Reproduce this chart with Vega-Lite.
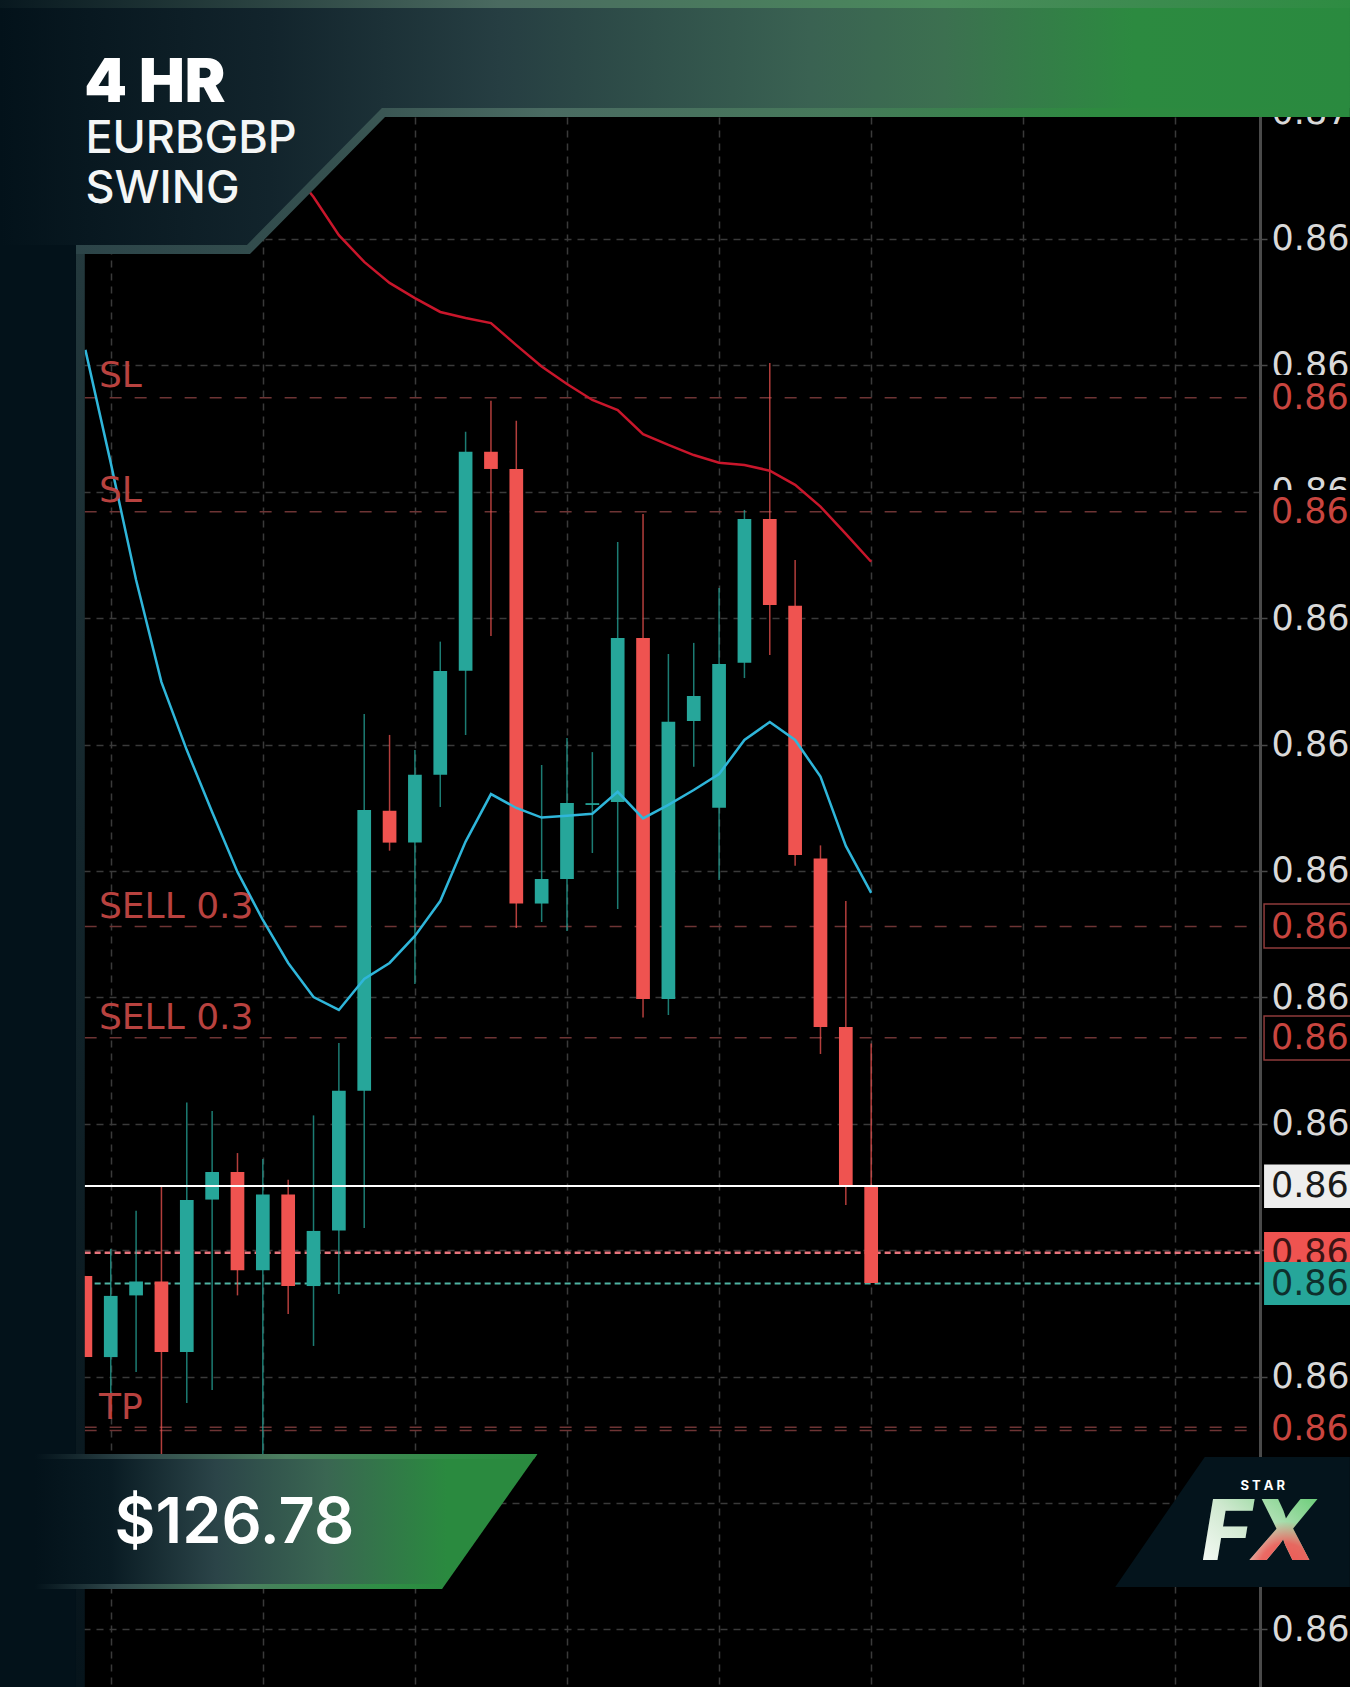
{
  "$schema": "https://vega.github.io/schema/vega-lite/v6.json",
  "description": "EURGBP 4 hour swing trade candles",
  "width": 1260,
  "height": 1687,
  "autosize": {"type": "none"},
  "padding": {"left": 0, "top": 0, "right": 90, "bottom": 0},
  "background": "#000000",
  "datasets": {
    "wicks": [
      {"slot": 0, "dir": "down", "price": 0.865398, "low": 0.865077},
      {"slot": 1, "dir": "up", "price": 0.865505, "low": 0.864935},
      {"slot": 2, "dir": "up", "price": 0.865656, "low": 0.865018},
      {"slot": 3, "dir": "down", "price": 0.865754, "low": 0.864591},
      {"slot": 4, "dir": "up", "price": 0.866084, "low": 0.864895},
      {"slot": 5, "dir": "up", "price": 0.866050, "low": 0.864947},
      {"slot": 6, "dir": "down", "price": 0.865884, "low": 0.865321},
      {"slot": 7, "dir": "up", "price": 0.865861, "low": 0.864591},
      {"slot": 8, "dir": "down", "price": 0.865778, "low": 0.865247},
      {"slot": 9, "dir": "up", "price": 0.866033, "low": 0.865121},
      {"slot": 10, "dir": "up", "price": 0.866319, "low": 0.865327},
      {"slot": 11, "dir": "up", "price": 0.867621, "low": 0.865588},
      {"slot": 12, "dir": "down", "price": 0.867538, "low": 0.867080},
      {"slot": 13, "dir": "up", "price": 0.867478, "low": 0.866553},
      {"slot": 14, "dir": "up", "price": 0.867907, "low": 0.867253},
      {"slot": 15, "dir": "up", "price": 0.868737, "low": 0.867538},
      {"slot": 16, "dir": "down", "price": 0.868860, "low": 0.867929},
      {"slot": 17, "dir": "down", "price": 0.868781, "low": 0.866774},
      {"slot": 18, "dir": "up", "price": 0.867419, "low": 0.866798},
      {"slot": 19, "dir": "up", "price": 0.867526, "low": 0.866762},
      {"slot": 20, "dir": "up", "price": 0.867470, "low": 0.867071},
      {"slot": 21, "dir": "up", "price": 0.868301, "low": 0.866849},
      {"slot": 22, "dir": "down", "price": 0.868412, "low": 0.866420},
      {"slot": 23, "dir": "up", "price": 0.867858, "low": 0.866430},
      {"slot": 24, "dir": "up", "price": 0.867902, "low": 0.867412},
      {"slot": 25, "dir": "up", "price": 0.868119, "low": 0.866964},
      {"slot": 26, "dir": "up", "price": 0.868428, "low": 0.867763},
      {"slot": 27, "dir": "down", "price": 0.869009, "low": 0.867854},
      {"slot": 28, "dir": "down", "price": 0.868230, "low": 0.867020},
      {"slot": 29, "dir": "down", "price": 0.867101, "low": 0.866276},
      {"slot": 30, "dir": "down", "price": 0.866881, "low": 0.865679},
      {"slot": 31, "dir": "down", "price": 0.866317, "low": 0.865370}
    ],
    "bodies": [
      {"slot": 0, "dir": "down", "price": 0.865398, "close": 0.865077},
      {"slot": 1, "dir": "up", "price": 0.865077, "close": 0.865319},
      {"slot": 2, "dir": "up", "price": 0.865321, "close": 0.865376},
      {"slot": 3, "dir": "down", "price": 0.865376, "close": 0.865097},
      {"slot": 4, "dir": "up", "price": 0.865097, "close": 0.865698},
      {"slot": 5, "dir": "up", "price": 0.865700, "close": 0.865809},
      {"slot": 6, "dir": "down", "price": 0.865809, "close": 0.865420},
      {"slot": 7, "dir": "up", "price": 0.865420, "close": 0.865720},
      {"slot": 8, "dir": "down", "price": 0.865720, "close": 0.865358},
      {"slot": 9, "dir": "up", "price": 0.865358, "close": 0.865576},
      {"slot": 10, "dir": "up", "price": 0.865578, "close": 0.866130},
      {"slot": 11, "dir": "up", "price": 0.866130, "close": 0.867241},
      {"slot": 12, "dir": "down", "price": 0.867238, "close": 0.867112},
      {"slot": 13, "dir": "up", "price": 0.867112, "close": 0.867380},
      {"slot": 14, "dir": "up", "price": 0.867380, "close": 0.867791},
      {"slot": 15, "dir": "up", "price": 0.867792, "close": 0.868658},
      {"slot": 16, "dir": "down", "price": 0.868658, "close": 0.868590},
      {"slot": 17, "dir": "down", "price": 0.868590, "close": 0.866871},
      {"slot": 18, "dir": "up", "price": 0.866871, "close": 0.866968},
      {"slot": 19, "dir": "up", "price": 0.866968, "close": 0.867269},
      {"slot": 20, "dir": "up", "price": 0.867261, "close": 0.867268},
      {"slot": 21, "dir": "up", "price": 0.867273, "close": 0.867921},
      {"slot": 22, "dir": "down", "price": 0.867921, "close": 0.866493},
      {"slot": 23, "dir": "up", "price": 0.866493, "close": 0.867590},
      {"slot": 24, "dir": "up", "price": 0.867593, "close": 0.867692},
      {"slot": 25, "dir": "up", "price": 0.867250, "close": 0.867819},
      {"slot": 26, "dir": "up", "price": 0.867823, "close": 0.868392},
      {"slot": 27, "dir": "down", "price": 0.868392, "close": 0.868052},
      {"slot": 28, "dir": "down", "price": 0.868049, "close": 0.867063},
      {"slot": 29, "dir": "down", "price": 0.867049, "close": 0.866383},
      {"slot": 30, "dir": "down", "price": 0.866383, "close": 0.865758},
      {"slot": 31, "dir": "down", "price": 0.865758, "close": 0.865370}
    ],
    "averages": [
      {"ma": "slow", "slot": 8, "price": 0.869792},
      {"ma": "slow", "slot": 9, "price": 0.869666},
      {"ma": "slow", "slot": 10, "price": 0.869515},
      {"ma": "slow", "slot": 11, "price": 0.869409},
      {"ma": "slow", "slot": 12, "price": 0.869326},
      {"ma": "slow", "slot": 13, "price": 0.869266},
      {"ma": "slow", "slot": 14, "price": 0.869211},
      {"ma": "slow", "slot": 15, "price": 0.869187},
      {"ma": "slow", "slot": 16, "price": 0.869167},
      {"ma": "slow", "slot": 17, "price": 0.869080},
      {"ma": "slow", "slot": 18, "price": 0.868995},
      {"ma": "slow", "slot": 19, "price": 0.868926},
      {"ma": "slow", "slot": 20, "price": 0.868863},
      {"ma": "slow", "slot": 21, "price": 0.868823},
      {"ma": "slow", "slot": 22, "price": 0.868728},
      {"ma": "slow", "slot": 23, "price": 0.868685},
      {"ma": "slow", "slot": 24, "price": 0.868645},
      {"ma": "slow", "slot": 25, "price": 0.868615},
      {"ma": "slow", "slot": 26, "price": 0.868606},
      {"ma": "slow", "slot": 27, "price": 0.868583},
      {"ma": "slow", "slot": 28, "price": 0.868527},
      {"ma": "slow", "slot": 29, "price": 0.868441},
      {"ma": "slow", "slot": 30, "price": 0.868333},
      {"ma": "slow", "slot": 31, "price": 0.868223},
      {"ma": "fast", "slot": 0, "price": 0.869061},
      {"ma": "fast", "slot": 1, "price": 0.868614},
      {"ma": "fast", "slot": 2, "price": 0.868151},
      {"ma": "fast", "slot": 3, "price": 0.867747},
      {"ma": "fast", "slot": 4, "price": 0.867478},
      {"ma": "fast", "slot": 5, "price": 0.867233},
      {"ma": "fast", "slot": 6, "price": 0.866996},
      {"ma": "fast", "slot": 7, "price": 0.866806},
      {"ma": "fast", "slot": 8, "price": 0.866636},
      {"ma": "fast", "slot": 9, "price": 0.866501},
      {"ma": "fast", "slot": 10, "price": 0.866450},
      {"ma": "fast", "slot": 11, "price": 0.866573},
      {"ma": "fast", "slot": 12, "price": 0.866636},
      {"ma": "fast", "slot": 13, "price": 0.866743},
      {"ma": "fast", "slot": 14, "price": 0.866881},
      {"ma": "fast", "slot": 15, "price": 0.867116},
      {"ma": "fast", "slot": 16, "price": 0.867304},
      {"ma": "fast", "slot": 17, "price": 0.867249},
      {"ma": "fast", "slot": 18, "price": 0.867211},
      {"ma": "fast", "slot": 19, "price": 0.867218},
      {"ma": "fast", "slot": 20, "price": 0.867226},
      {"ma": "fast", "slot": 21, "price": 0.867313},
      {"ma": "fast", "slot": 22, "price": 0.867208},
      {"ma": "fast", "slot": 23, "price": 0.867261},
      {"ma": "fast", "slot": 24, "price": 0.867320},
      {"ma": "fast", "slot": 25, "price": 0.867383},
      {"ma": "fast", "slot": 26, "price": 0.867518},
      {"ma": "fast", "slot": 27, "price": 0.867589},
      {"ma": "fast", "slot": 28, "price": 0.867518},
      {"ma": "fast", "slot": 29, "price": 0.867373},
      {"ma": "fast", "slot": 30, "price": 0.867099},
      {"ma": "fast", "slot": 31, "price": 0.866913}
    ],
    "levels": [
      {"kind": "order", "slot": -0.03, "end": 46.34, "price": 0.868872},
      {"kind": "order", "slot": -0.03, "end": 46.34, "price": 0.868421},
      {"kind": "order", "slot": -0.03, "end": 46.34, "price": 0.866780},
      {"kind": "order", "slot": -0.03, "end": 46.34, "price": 0.866340},
      {"kind": "order", "slot": -0.03, "end": 46.34, "price": 0.864799},
      {"kind": "order", "slot": -0.03, "end": 46.34, "price": 0.864787},
      {"kind": "ask", "slot": -0.03, "end": 46.34, "price": 0.865490},
      {"kind": "bid", "slot": -0.03, "end": 46.34, "price": 0.865368},
      {"kind": "last", "slot": -0.03, "end": 46.34, "price": 0.865754}
    ],
    "orderCaptions": [
      {"label": "SL", "slot": 0.536, "price": 0.868914},
      {"label": "SL", "slot": 0.536, "price": 0.868460},
      {"label": "SELL 0.3", "slot": 0.536, "price": 0.866815},
      {"label": "SELL 0.3", "slot": 0.536, "price": 0.866373},
      {"label": "TP", "slot": 0.536, "price": 0.864832}
    ],
    "tagBoxes": [
      {"tag": "sl", "slot": 46.42, "end": 49.9, "price": 0.868962, "bottom": 0.868784},
      {"tag": "sl", "slot": 46.42, "end": 49.9, "price": 0.868507, "bottom": 0.868329},
      {"tag": "sell", "slot": 46.5, "end": 50.2, "price": 0.866869, "bottom": 0.866695},
      {"tag": "sell", "slot": 46.5, "end": 50.2, "price": 0.866426, "bottom": 0.866252},
      {"tag": "last", "slot": 46.5, "end": 49.9, "price": 0.865839, "bottom": 0.865667},
      {"tag": "ask", "slot": 46.5, "end": 49.9, "price": 0.865572, "bottom": 0.865453},
      {"tag": "bid", "slot": 46.5, "end": 49.9, "price": 0.865453, "bottom": 0.865283}
    ],
    "tagTexts": [
      {"tag": "order", "label": "0.86", "slot": 46.77, "price": 0.868872},
      {"tag": "order", "label": "0.86", "slot": 46.77, "price": 0.868421},
      {"tag": "order", "label": "0.86", "slot": 46.77, "price": 0.866780},
      {"tag": "order", "label": "0.86", "slot": 46.77, "price": 0.866340},
      {"tag": "order", "label": "0.86", "slot": 46.77, "price": 0.864793},
      {"tag": "last", "label": "0.86", "slot": 46.77, "price": 0.865754},
      {"tag": "ask", "label": "0.86", "slot": 46.77, "price": 0.865490},
      {"tag": "bid", "label": "0.86", "slot": 46.77, "price": 0.865368}
    ],
    "panels": [
      {"panel": "headerEdge", "slot": -0.371, "price": 0.869440, "top": 0.870445},
      {"panel": "headerEdge", "slot": 6.493, "price": 0.869440, "top": 0.870445},
      {"panel": "headerEdge", "slot": 11.82, "price": 0.869982, "top": 0.870445},
      {"panel": "headerEdge", "slot": 49.886, "price": 0.869982, "top": 0.870445},
      {"panel": "header", "slot": -3.369, "price": 0.869476, "top": 0.870445},
      {"panel": "header", "slot": 6.375, "price": 0.869476, "top": 0.870445},
      {"panel": "header", "slot": 11.70, "price": 0.870018, "top": 0.870445},
      {"panel": "header", "slot": 49.886, "price": 0.870018, "top": 0.870445},
      {"panel": "topBand", "slot": -3.369, "price": 0.870413, "top": 0.870445},
      {"panel": "topBand", "slot": 49.886, "price": 0.870413, "top": 0.870445},
      {"panel": "side", "slot": -3.369, "price": 0.863772, "top": 0.870445},
      {"panel": "side", "slot": -0.371, "price": 0.863772, "top": 0.870445},
      {"panel": "sideEdge", "slot": -0.371, "price": 0.863772, "top": 0.869476},
      {"panel": "sideEdge", "slot": -0.024, "price": 0.863772, "top": 0.869476},
      {"panel": "profit", "slot": -1.988, "price": 0.864160, "top": 0.864694},
      {"panel": "profit", "slot": 14.07, "price": 0.864160, "top": 0.864694},
      {"panel": "profit", "slot": 17.83, "price": 0.864694, "top": 0.864694},
      {"panel": "profitTop", "slot": -1.988, "price": 0.864674, "top": 0.864694},
      {"panel": "profitTop", "slot": 17.70, "price": 0.864674, "top": 0.864694},
      {"panel": "profitTop", "slot": 17.83, "price": 0.864694, "top": 0.864694},
      {"panel": "profitBottom", "slot": -1.988, "price": 0.864160, "top": 0.864179},
      {"panel": "profitBottom", "slot": 14.07, "price": 0.864160, "top": 0.864179},
      {"panel": "logo", "slot": 40.63, "price": 0.864168, "top": 0.864168},
      {"panel": "logo", "slot": 44.16, "price": 0.864168, "top": 0.864682},
      {"panel": "logo", "slot": 49.886, "price": 0.864168, "top": 0.864682}
    ],
    "captions": [
      {"label": "4 HR", "slot": -0.05, "price": 0.870043},
      {"label": "EURBGBP", "slot": 0.0, "price": 0.869841},
      {"label": "SWING", "slot": 0.0, "price": 0.869642},
      {"label": "$126.78", "slot": 1.15, "price": 0.864342},
      {"label": "S T A R", "slot": 46.45, "price": 0.864553},
      {"label": "FX", "slot": 44.05, "price": 0.864274}
    ]
  },
  "encoding": {
    "x": {
      "field": "slot",
      "type": "quantitative",
      "scale": {"domain": [-3.369, 46.34], "nice": false, "zero": false, "padding": 0},
      "axis": {
        "title": null,
        "orient": "bottom",
        "values": [1, 7, 13, 19, 25, 31, 37, 43],
        "labels": false,
        "ticks": false,
        "domain": false,
        "grid": true,
        "gridColor": "#3a3a3a",
        "gridDash": [7, 6],
        "gridWidth": 1.5
      }
    },
    "y": {
      "field": "price",
      "type": "quantitative",
      "scale": {"domain": [0.863772, 0.870445], "nice": false, "zero": false, "padding": 0},
      "axis": {
        "title": null,
        "orient": "right",
        "values": [0.864, 0.8645, 0.865, 0.8655, 0.866, 0.8665, 0.867, 0.8675, 0.868, 0.8685, 0.869, 0.8695, 0.87],
        "labelExpr": "substring(format(datum.value, '.4f'), 0, 4)",
        "labelFont": "DejaVu Sans",
        "labelFontSize": 35,
        "labelColor": "#d9d9d9",
        "labelPadding": 4,
        "labelOverlap": false,
        "labelBound": false,
        "tickSize": 7,
        "tickColor": "#4a4a4a",
        "tickWidth": 1.5,
        "domainColor": "#4a4a4a",
        "domainWidth": 3,
        "grid": true,
        "gridColor": "#3a3a3a",
        "gridDash": [7, 6],
        "gridWidth": 1.5
      }
    }
  },
  "layer": [
    {
      "data": {"name": "levels"},
      "transform": [{"filter": "datum.kind == 'order'"}],
      "mark": {"type": "rule", "color": "#6e3434", "strokeWidth": 1.5, "strokeDash": [12, 13]},
      "encoding": {"x2": {"field": "end"}}
    },
    {
      "data": {"name": "levels"},
      "transform": [{"filter": "datum.kind == 'ask'"}],
      "mark": {"type": "rule", "color": "#e8747c", "strokeWidth": 2.5, "strokeDash": [6, 4]},
      "encoding": {"x2": {"field": "end"}}
    },
    {
      "data": {"name": "levels"},
      "transform": [{"filter": "datum.kind == 'bid'"}],
      "mark": {"type": "rule", "color": "#4fb3a3", "strokeWidth": 2, "strokeDash": [6, 4]},
      "encoding": {"x2": {"field": "end"}}
    },
    {
      "data": {"name": "wicks"},
      "mark": {"type": "rule", "strokeWidth": 1.5, "opacity": 0.75},
      "encoding": {
        "y2": {"field": "low"},
        "color": {"field": "dir", "type": "nominal", "scale": {"domain": ["up", "down"], "range": ["#26a69a", "#ef5350"]}, "legend": null}
      }
    },
    {
      "data": {"name": "bodies"},
      "mark": {"type": "bar", "size": 13.7, "orient": "vertical"},
      "encoding": {
        "y2": {"field": "close"},
        "color": {"field": "dir", "type": "nominal", "scale": {"domain": ["up", "down"], "range": ["#26a69a", "#ef5350"]}, "legend": null}
      }
    },
    {
      "data": {"name": "levels"},
      "transform": [{"filter": "datum.kind == 'last'"}],
      "mark": {"type": "rule", "color": "#ffffff", "strokeWidth": 2},
      "encoding": {"x2": {"field": "end"}}
    },
    {
      "data": {"name": "averages"},
      "transform": [{"filter": "datum.ma == 'slow'"}],
      "mark": {"type": "line", "color": "#c9162b", "strokeWidth": 2.5}
    },
    {
      "data": {"name": "averages"},
      "transform": [{"filter": "datum.ma == 'fast'"}],
      "mark": {"type": "line", "color": "#2fb6da", "strokeWidth": 2.5}
    },
    {
      "data": {"name": "orderCaptions"},
      "mark": {"type": "text", "align": "left", "baseline": "alphabetic", "font": "DejaVu Sans", "fontSize": 36, "color": "#b8423f"},
      "encoding": {"text": {"field": "label"}}
    },
    {
      "data": {"name": "tagBoxes"},
      "transform": [{"filter": "datum.tag == 'sl'"}],
      "mark": {"type": "rect", "color": "#000000"},
      "encoding": {"x2": {"field": "end"}, "y2": {"field": "bottom"}}
    },
    {
      "data": {"name": "tagBoxes"},
      "transform": [{"filter": "datum.tag == 'sell'"}],
      "mark": {"type": "rect", "fill": "#000000", "stroke": "#8f3b3b", "strokeWidth": 1.5},
      "encoding": {"x2": {"field": "end"}, "y2": {"field": "bottom"}}
    },
    {
      "data": {"name": "tagTexts"},
      "transform": [{"filter": "datum.tag == 'order'"}],
      "mark": {"type": "text", "align": "left", "baseline": "middle", "font": "DejaVu Sans", "fontSize": 35, "color": "#c9453f"},
      "encoding": {"text": {"field": "label"}}
    },
    {
      "data": {"name": "tagBoxes"},
      "transform": [{"filter": "datum.tag == 'last'"}],
      "mark": {"type": "rect", "color": "#eeeeee"},
      "encoding": {"x2": {"field": "end"}, "y2": {"field": "bottom"}}
    },
    {
      "data": {"name": "tagTexts"},
      "transform": [{"filter": "datum.tag == 'last'"}],
      "mark": {"type": "text", "align": "left", "baseline": "middle", "font": "DejaVu Sans", "fontSize": 35, "color": "#1a1a1a"},
      "encoding": {"text": {"field": "label"}}
    },
    {
      "data": {"name": "tagBoxes"},
      "transform": [{"filter": "datum.tag == 'ask'"}],
      "mark": {"type": "rect", "color": "#ef5350"},
      "encoding": {"x2": {"field": "end"}, "y2": {"field": "bottom"}}
    },
    {
      "data": {"name": "tagTexts"},
      "transform": [{"filter": "datum.tag == 'ask'"}],
      "mark": {"type": "text", "align": "left", "baseline": "middle", "font": "DejaVu Sans", "fontSize": 35, "color": "#3a1414"},
      "encoding": {"text": {"field": "label"}}
    },
    {
      "data": {"name": "tagBoxes"},
      "transform": [{"filter": "datum.tag == 'bid'"}],
      "mark": {"type": "rect", "color": "#26a69a"},
      "encoding": {"x2": {"field": "end"}, "y2": {"field": "bottom"}}
    },
    {
      "data": {"name": "tagTexts"},
      "transform": [{"filter": "datum.tag == 'bid'"}],
      "mark": {"type": "text", "align": "left", "baseline": "middle", "font": "DejaVu Sans", "fontSize": 35, "color": "#0e2f2c"},
      "encoding": {"text": {"field": "label"}}
    },
    {
      "data": {"name": "panels"},
      "transform": [{"filter": "datum.panel == 'side'"}],
      "mark": {"type": "area", "color": "#03121a"},
      "encoding": {"y2": {"field": "top"}}
    },
    {
      "data": {"name": "panels"},
      "transform": [{"filter": "datum.panel == 'sideEdge'"}],
      "mark": {
        "type": "area",
        "color": {
          "gradient": "linear", "x1": 0, "y1": 0, "x2": 0, "y2": 1,
          "stops": [
            {"offset": 0, "color": "#24393d"},
            {"offset": 0.4, "color": "#14262c"},
            {"offset": 1, "color": "#06141b"}
          ]
        }
      },
      "encoding": {"y2": {"field": "top"}}
    },
    {
      "data": {"name": "panels"},
      "transform": [{"filter": "datum.panel == 'headerEdge'"}],
      "mark": {
        "type": "area",
        "color": {
          "gradient": "linear", "x1": 0, "y1": 0, "x2": 1, "y2": 0,
          "stops": [
            {"offset": 0, "color": "#2c4448"},
            {"offset": 0.2, "color": "#35504f"},
            {"offset": 0.37, "color": "#4a6b62"},
            {"offset": 0.6, "color": "#46795a"},
            {"offset": 0.8, "color": "#2e8a40"},
            {"offset": 1, "color": "#2a8a3f"}
          ]
        }
      },
      "encoding": {"y2": {"field": "top"}}
    },
    {
      "data": {"name": "panels"},
      "transform": [{"filter": "datum.panel == 'header'"}],
      "mark": {
        "type": "area",
        "color": {
          "gradient": "linear", "x1": 0, "y1": 0, "x2": 1, "y2": 0,
          "stops": [
            {"offset": 0, "color": "#03121a"},
            {"offset": 0.2, "color": "#12242c"},
            {"offset": 0.37, "color": "#263e42"},
            {"offset": 0.6, "color": "#3a6252"},
            {"offset": 0.7, "color": "#3c7050"},
            {"offset": 0.84, "color": "#2c8a40"},
            {"offset": 1, "color": "#2a8a3f"}
          ]
        }
      },
      "encoding": {"y2": {"field": "top"}}
    },
    {
      "data": {"name": "panels"},
      "transform": [{"filter": "datum.panel == 'topBand'"}],
      "mark": {
        "type": "area",
        "color": {
          "gradient": "linear", "x1": 0, "y1": 0, "x2": 1, "y2": 0,
          "stops": [
            {"offset": 0, "color": "#08181f"},
            {"offset": 0.37, "color": "#4a6a60"},
            {"offset": 0.7, "color": "#4a8a5c"},
            {"offset": 1, "color": "#2e8c42"}
          ]
        }
      },
      "encoding": {"y2": {"field": "top"}}
    },
    {
      "data": {"name": "panels"},
      "transform": [{"filter": "datum.panel == 'profit'"}],
      "mark": {
        "type": "area",
        "color": {
          "gradient": "linear", "x1": 0, "y1": 0, "x2": 1, "y2": 0,
          "stops": [
            {"offset": 0, "color": "#03121a"},
            {"offset": 0.15, "color": "#091b23"},
            {"offset": 0.36, "color": "#2b4448"},
            {"offset": 0.58, "color": "#3a6652"},
            {"offset": 0.82, "color": "#2a8a3f"},
            {"offset": 1, "color": "#2a8a3f"}
          ]
        }
      },
      "encoding": {"y2": {"field": "top"}}
    },
    {
      "data": {"name": "panels"},
      "transform": [{"filter": "datum.panel == 'profitTop' || datum.panel == 'profitBottom'"}],
      "mark": {
        "type": "area",
        "color": {
          "gradient": "linear", "x1": 0, "y1": 0, "x2": 1, "y2": 0,
          "stops": [
            {"offset": 0, "color": "#03121a"},
            {"offset": 0.2, "color": "#30484b"},
            {"offset": 0.5, "color": "#4c7f60"},
            {"offset": 0.85, "color": "#2f8f45"},
            {"offset": 1, "color": "#2a8a3f"}
          ]
        }
      },
      "encoding": {"detail": {"field": "panel"}, "y2": {"field": "top"}}
    },
    {
      "data": {"name": "panels"},
      "transform": [{"filter": "datum.panel == 'logo'"}],
      "mark": {"type": "area", "color": "#04141c"},
      "encoding": {"y2": {"field": "top"}}
    },
    {
      "data": {"name": "captions"},
      "transform": [{"filter": "datum.label == '4 HR'"}],
      "mark": {"type": "text", "align": "left", "baseline": "alphabetic", "font": "Inter", "fontWeight": 900, "fontSize": 61, "color": "#ffffff"},
      "encoding": {"text": {"field": "label"}}
    },
    {
      "data": {"name": "captions"},
      "transform": [{"filter": "datum.label == 'EURBGBP' || datum.label == 'SWING'"}],
      "mark": {"type": "text", "align": "left", "baseline": "alphabetic", "font": "Inter", "fontWeight": 500, "fontSize": 45, "color": "#f4f6f6"},
      "encoding": {"text": {"field": "label"}}
    },
    {
      "data": {"name": "captions"},
      "transform": [{"filter": "datum.label == '$126.78'"}],
      "mark": {"type": "text", "align": "left", "baseline": "alphabetic", "font": "Inter", "fontWeight": 600, "fontSize": 63, "color": "#ffffff"},
      "encoding": {"text": {"field": "label"}}
    },
    {
      "data": {"name": "captions"},
      "transform": [{"filter": "datum.label == 'S T A R'"}],
      "mark": {"type": "text", "align": "center", "baseline": "alphabetic", "font": "Inter", "fontWeight": 700, "fontSize": 13, "color": "#ffffff"},
      "encoding": {"text": {"field": "label"}}
    },
    {
      "data": {"name": "captions"},
      "transform": [{"filter": "datum.label == 'FX'"}],
      "mark": {
        "type": "text", "align": "left", "baseline": "alphabetic", "font": "Inter", "fontWeight": 800, "fontStyle": "italic", "fontSize": 84,
        "color": {
          "gradient": "linear", "x1": 0, "y1": 1, "x2": 1, "y2": 0,
          "stops": [
            {"offset": 0, "color": "#ffffff"},
            {"offset": 0.45, "color": "#cfe8cf"},
            {"offset": 1, "color": "#58c868"}
          ]
        }
      },
      "encoding": {"text": {"field": "label"}}
    },
    {
      "data": {"name": "captions"},
      "transform": [{"filter": "datum.label == 'FX'"}],
      "mark": {
        "type": "text", "align": "left", "baseline": "alphabetic", "font": "Inter", "fontWeight": 800, "fontStyle": "italic", "fontSize": 84,
        "color": {
          "gradient": "radial", "x1": 0.72, "y1": 0.85, "r1": 0, "x2": 0.72, "y2": 0.85, "r2": 0.42,
          "stops": [
            {"offset": 0, "color": "#ef5350"},
            {"offset": 0.55, "color": "rgba(239,83,80,0.85)"},
            {"offset": 1, "color": "rgba(239,83,80,0)"}
          ]
        }
      },
      "encoding": {"text": {"field": "label"}}
    }
  ],
  "config": {"view": {"stroke": null}}
}
